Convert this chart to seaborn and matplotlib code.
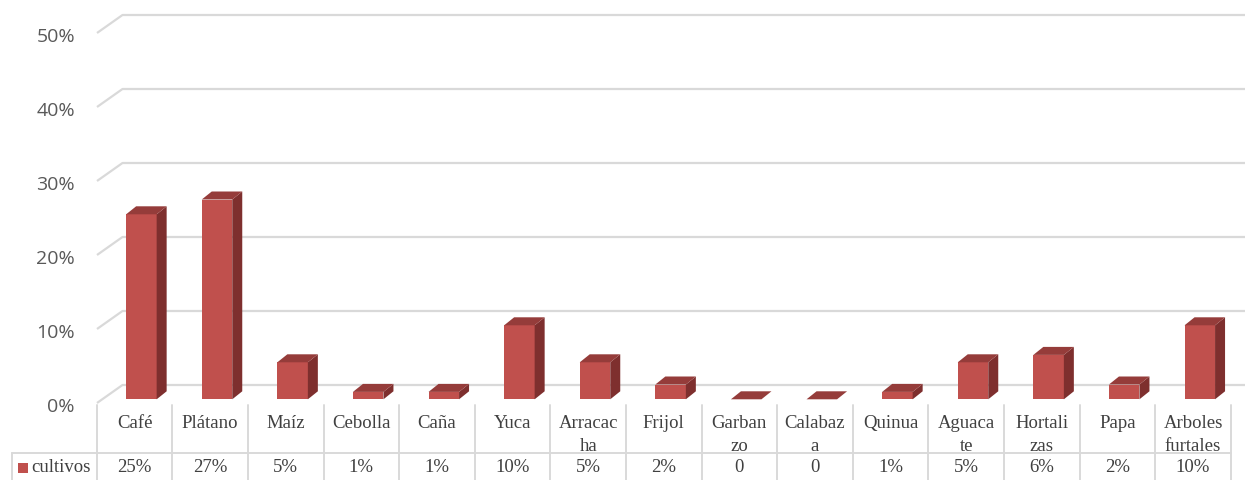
import matplotlib
matplotlib.use("Agg")
import matplotlib.pyplot as plt
import seaborn as sns
from matplotlib.patches import Polygon

# data
cultivos = ["Café", "Plátano", "Maíz", "Cebolla", "Caña", "Yuca", "Arracacha", "Frijol",
            "Garbanzo", "Calabaza", "Quinua", "Aguacate", "Hortalizas", "Papa", "Arboles furtales"]
# labels as they are wrapped in the table under the chart
etiquetas = ["Café", "Plátano", "Maíz", "Cebolla", "Caña", "Yuca", "Arracac\nha", "Frijol",
             "Garban\nzo", "Calabaz\na", "Quinua", "Aguaca\nte", "Hortali\nzas", "Papa", "Arboles\nfurtales"]
porcentajes = [25, 27, 5, 1, 1, 10, 5, 2, 0, 0, 1, 5, 6, 2, 10]
ticks_y = [0, 10, 20, 30, 40, 50]
serie = "cultivos"

front = "#C0504D"
side = "#7E2F2E"
top = "#953C3A"
grid = "#D9D9D9"

sns.set_theme(style="white")
plt.rcParams["font.family"] = ["Open Sans", "DejaVu Sans"]

W, H = 1245, 480
fig = plt.figure(figsize=(W / 100, H / 100), dpi=100)

px_x = 75.6   # pixels per category
px_y = 7.4    # pixels per percent
left = 103.6
ax = fig.add_axes([left / W, (H - 399.3) / H, 15 * px_x / W, 50 * px_y / H])

# depth of the 3d effect, in data units
dx = 10 / px_x
dy = 8 / px_y

sns.barplot(x=cultivos, y=porcentajes, color=front, saturation=1, width=30.5 / px_x,
            ax=ax, zorder=3, linewidth=0)
ax.set_xlim(-0.5, 14.5)
ax.set_ylim(0, 50)
ax.axis("off")

for p in ax.patches:
    x0 = p.get_x()
    w = p.get_width()
    h = p.get_height()
    ax.add_patch(Polygon([(x0 + w, 0), (x0 + w + dx, dy), (x0 + w + dx, h + dy), (x0 + w, h)],
                         closed=True, fc=side, ec="none", zorder=3, clip_on=False))
    ax.add_patch(Polygon([(x0, h), (x0 + dx, h + dy), (x0 + w + dx, h + dy), (x0 + w, h)],
                         closed=True, fc=top, ec="none", zorder=3, clip_on=False))
    p.set_clip_on(False)

# gridlines of the back wall with the diagonal of the floor/side wall
back_dy = 14.3 / px_y
front_x = -0.5 + (97 - left) / px_x
back_x = -0.5 + (122.5 - left) / px_x
right_x = -0.5 + (W + 2 - left) / px_x
for v in ticks_y:
    yb = v + back_dy
    yf = yb - 18 / px_y
    ax.plot([front_x, back_x, right_x], [yf, yb, yb], color=grid, lw=1.6, zorder=1,
            clip_on=False, solid_capstyle="butt")
    ax.text(front_x - 22 / px_x, yf - 0.6, f"{v}%", ha="right", va="center",
            fontsize=14, color="#595959")

# data table below the chart
tab = fig.add_axes([left / W, 0, 15 * px_x / W, 75 / H])
tab.set_xlim(-0.5, 14.5)
tab.set_ylim(0, 75)
tab.axis("off")
shift = -6.8 / px_x
col_left = -0.5 + (12 - left) / px_x
serif = ["Liberation Serif", "DejaVu Serif"]
txt = "#404040"
lc = "#D9D9D9"

for i in range(len(cultivos) + 1):
    tab.plot([i - 0.5 + shift] * 2, [-5, 75], color=lc, lw=1.4, clip_on=False)
tab.plot([col_left, col_left], [-5, 27], color=lc, lw=1.4, clip_on=False)
tab.plot([col_left, 14.5 + shift], [27, 27], color=lc, lw=1.4, clip_on=False)

for i, (lab, v) in enumerate(zip(etiquetas, porcentajes)):
    tab.text(i + shift, 65, lab, ha="center", va="top", fontsize=13.5, color=txt,
             family=serif, linespacing=1.45)
    tab.text(i + shift, 12, f"{v}%" if v else "0", ha="center", va="center",
             fontsize=13.5, color=txt, family=serif)

tab.add_patch(plt.Rectangle((col_left + 6 / px_x, 7), 10 / px_x, 10, fc=front, ec="none",
                            clip_on=False))
tab.text(col_left + 19 / px_x, 12, serie, ha="left", va="center", fontsize=13.5, color=txt,
         family=serif)

fig.savefig("out.png", dpi=100)
